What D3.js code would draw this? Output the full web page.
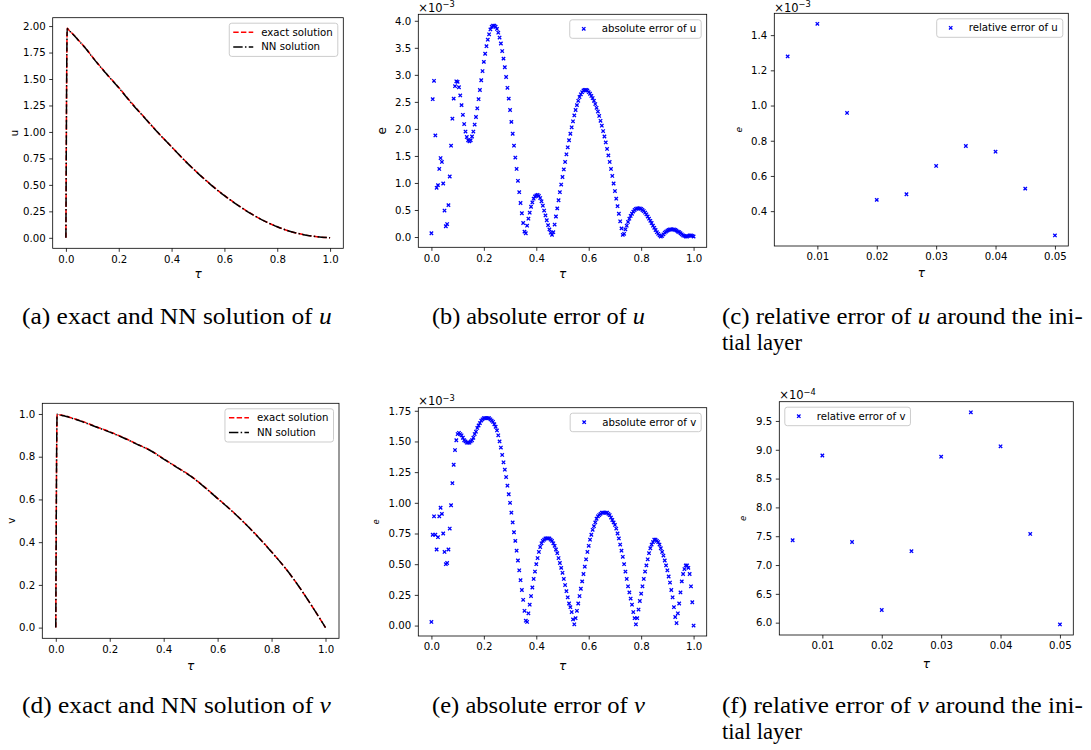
<!DOCTYPE html>
<html>
<head>
<meta charset="utf-8">
<script src="https://cdnjs.cloudflare.com/ajax/libs/d3/7.8.5/d3.min.js"></script>
<style>
  html, body { margin: 0; padding: 0; background: #fff; }
  svg { display: block; }
  .cap { font-family: "Liberation Serif", "DejaVu Serif", serif; }
  .plotfont { font-family: "DejaVu Sans", sans-serif; }
</style>
</head>
<body>
<svg id="fig" width="1091" height="750"></svg>
<script>
// ---------------- data ----------------
// sampling step of the tau grid used for the absolute errors (0 .. 1)
const errTauStep = 0.005;

// absolute error of u on the tau grid, in units of 1e-3
const uAbsErr = [
  0.07, 2.55, 2.89, 1.88, 0.91, 0.96, 1.26, 1.46, 1.39, 0.99, 0.49, 0.20, 0.24, 0.59, 1.12, 1.69, 2.19, 2.56, 2.79, 2.88, 2.87,
  2.77, 2.62, 2.44, 2.26, 2.09, 1.95, 1.85, 1.79, 1.77, 1.79, 1.86,
  1.95, 2.08, 2.22, 2.38, 2.55, 2.72, 2.90, 3.07, 3.24, 3.39, 3.53, 3.65, 3.75, 3.84, 3.89, 3.91, 3.91, 3.89, 3.85, 3.78,
  3.69, 3.58, 3.44, 3.30, 3.14, 2.96, 2.76, 2.56, 2.35, 2.13, 1.91, 1.69, 1.47, 1.26, 1.04, 0.83, 0.63, 0.44, 0.26, 0.10, 0.07,
  0.21, 0.34, 0.45, 0.56, 0.64, 0.71, 0.75, 0.77, 0.78, 0.76, 0.72, 0.66, 0.58, 0.49, 0.40, 0.31, 0.22, 0.14, 0.08, 0.04,
  0.09, 0.23, 0.38, 0.53, 0.68, 0.83, 0.97, 1.11, 1.25, 1.39, 1.53, 1.66, 1.79, 1.91, 2.03, 2.14, 2.25, 2.35, 2.44, 2.52,
  2.59, 2.64, 2.68, 2.71, 2.72,
  2.72, 2.71, 2.68, 2.65, 2.61, 2.57, 2.52, 2.46, 2.39, 2.32, 2.24, 2.15, 2.06, 1.96, 1.86, 1.75, 1.63, 1.51, 1.39, 1.26,
  1.13, 0.99, 0.85, 0.71, 0.57, 0.43, 0.29, 0.16, 0.04,
  0.06, 0.14, 0.21, 0.28, 0.34, 0.39, 0.43, 0.47, 0.50, 0.52, 0.53, 0.53, 0.53, 0.52, 0.50, 0.48, 0.45, 0.42, 0.38, 0.34,
  0.30, 0.26, 0.21, 0.17, 0.13, 0.09, 0.06, 0.03, 0.01, 0.02, 0.05, 0.08, 0.10, 0.12, 0.13, 0.14, 0.14, 0.14, 0.14, 0.13,
  0.12, 0.10, 0.09, 0.07, 0.05, 0.03, 0.02, 0.01, 0.01, 0.02, 0.03, 0.03, 0.02, 0.01
];

// absolute error of v on the tau grid, in units of 1e-3
const vAbsErr = [
  0.03, 0.74, 0.89, 0.74, 0.62, 0.72, 0.89, 0.96, 0.91, 0.75, 0.60, 0.50, 0.51, 0.62, 0.79, 0.98, 1.16, 1.31, 1.43, 1.51, 1.56,
  1.57, 1.56, 1.55, 1.53, 1.51, 1.50, 1.49, 1.49, 1.49, 1.50, 1.51, 1.53, 1.56, 1.58, 1.61, 1.63, 1.65, 1.67, 1.68, 1.69,
  1.69, 1.69, 1.69, 1.69, 1.68, 1.67, 1.66, 1.64, 1.62, 1.59, 1.55, 1.50, 1.45, 1.39, 1.33, 1.27, 1.21, 1.14, 1.07, 1.00,
  0.92, 0.84, 0.76, 0.69, 0.61, 0.53, 0.45, 0.37, 0.29, 0.21, 0.12, 0.04, 0.03, 0.10, 0.17, 0.24, 0.31, 0.38, 0.44, 0.50,
  0.55, 0.60, 0.64, 0.67, 0.69, 0.70, 0.71, 0.71, 0.71, 0.71, 0.70, 0.69, 0.67, 0.65, 0.62, 0.59, 0.55, 0.51, 0.47, 0.43,
  0.38, 0.33, 0.28, 0.23, 0.18, 0.15, 0.11, 0.05, 0.01, 0.06, 0.12, 0.18, 0.24, 0.30, 0.36, 0.42, 0.48, 0.54, 0.60, 0.65,
  0.70, 0.74, 0.78, 0.81, 0.84, 0.87, 0.89, 0.90, 0.91, 0.92, 0.92, 0.92, 0.92, 0.92, 0.91, 0.90, 0.88, 0.86, 0.84, 0.82,
  0.79, 0.75, 0.71, 0.66, 0.61, 0.56, 0.50, 0.44, 0.38, 0.32, 0.27, 0.22, 0.17, 0.11, 0.06, 0.01, 0.06, 0.13, 0.20, 0.26,
  0.32, 0.38, 0.44, 0.49, 0.54, 0.59, 0.63, 0.66, 0.68, 0.70, 0.70, 0.69, 0.68, 0.66, 0.63, 0.60, 0.57, 0.53, 0.49, 0.45,
  0.40, 0.35, 0.29, 0.23, 0.15, 0.07, 0.02, 0.10, 0.18, 0.27, 0.36, 0.42, 0.46, 0.49, 0.49, 0.47, 0.42, 0.32, 0.19, 0.00
];

// points inside the initial layer
const relTau = [0.005, 0.010, 0.015, 0.020, 0.025, 0.030, 0.035, 0.040, 0.045, 0.050];
// relative error of u, units of 1e-3
const uRelErr = [1.279, 1.464, 0.958, 0.464, 0.496, 0.657, 0.770, 0.738, 0.528, 0.262];
// relative error of v, units of 1e-4
const vRelErr = [7.43, 8.90, 7.40, 6.22, 7.24, 8.88, 9.65, 9.06, 7.54, 5.97];

// solution curves
const solTau = [0, 0.005, 0.01, 0.02, 0.03, 0.05, 0.075, 0.1, 0.15, 0.2, 0.25, 0.3, 0.35, 0.4, 0.45,
                0.5, 0.55, 0.6, 0.65, 0.7, 0.75, 0.8, 0.85, 0.9, 0.95, 1.0];
const uExact = [0, 1.980, 1.965, 1.940, 1.915, 1.860, 1.790, 1.710, 1.560, 1.420, 1.270, 1.130, 0.990, 0.860, 0.730,
                0.610, 0.500, 0.400, 0.310, 0.230, 0.160, 0.105, 0.060, 0.030, 0.010, 0.000];
const uNN    = [0, 1.978, 1.962, 1.939, 1.914, 1.859, 1.788, 1.707, 1.558, 1.417, 1.266, 1.128, 0.989, 0.859, 0.729,
                0.609, 0.498, 0.398, 0.309, 0.229, 0.160, 0.105, 0.060, 0.030, 0.010, 0.000];
const vExact = [0, 0.999, 0.997, 0.995, 0.993, 0.985, 0.975, 0.965, 0.940, 0.917, 0.890, 0.860, 0.830, 0.790, 0.750,
                0.710, 0.660, 0.605, 0.550, 0.490, 0.425, 0.355, 0.280, 0.195, 0.100, 0.000];
const vNN    = [0, 0.999, 0.996, 0.994, 0.992, 0.984, 0.974, 0.963, 0.939, 0.915, 0.889, 0.859, 0.829, 0.789, 0.749,
                0.709, 0.659, 0.604, 0.549, 0.489, 0.424, 0.354, 0.280, 0.195, 0.100, 0.000];

// tick labels
const tauTicks = [0, 0.2, 0.4, 0.6, 0.8, 1.0];
const layerTicks = [0.01, 0.02, 0.03, 0.04, 0.05];
const uTicks = [0, 0.25, 0.5, 0.75, 1.0, 1.25, 1.5, 1.75, 2.0];
const vTicks = [0, 0.2, 0.4, 0.6, 0.8, 1.0];
const uAbsTicks = [0, 0.5, 1.0, 1.5, 2.0, 2.5, 3.0, 3.5, 4.0];
const vAbsTicks = [0, 0.25, 0.5, 0.75, 1.0, 1.25, 1.5, 1.75];
const uRelTicks = [0.4, 0.6, 0.8, 1.0, 1.2, 1.4];
const vRelTicks = [6.0, 6.5, 7.0, 7.5, 8.0, 8.5, 9.0, 9.5];

const captions = [
  { lines: [["(a) exact and NN solution of ", "u"]] },
  { lines: [["(b) absolute error of ", "u"]] },
  { lines: [["(c) relative error of ", "u", " around the ini-"], ["tial layer"]] },
  { lines: [["(d) exact and NN solution of ", "v"]] },
  { lines: [["(e) absolute error of ", "v"]] },
  { lines: [["(f) relative error of ", "v", " around the ini-"], ["tial layer"]] }
];

// ---------------- drawing ----------------
const svg = d3.select("#fig");
const FS = 10.2;
const errTau = d3.range(uAbsErr.length).map(i => +(i * errTauStep).toFixed(3));
const zip = (xs, ys) => xs.map((t, i) => [t, ys[i]]);
const xMark = "M-1.7,-1.7L1.7,1.7M-1.7,1.7L1.7,-1.7";

function drawLegend(g, p) {
  const lg = g.append("g");
  const frame = lg.append("rect");
  const rowH = 14.7;
  const texts = [];
  p.legend.items.forEach((it, k) => {
    const cy = k * rowH;
    if (it.kind === "line") {
      lg.append("line").attr("x1", 4).attr("x2", 24).attr("y1", cy).attr("y2", cy)
        .attr("stroke", it.color).attr("stroke-width", 1.5).attr("stroke-dasharray", it.dash);
    } else {
      lg.append("path").attr("d", xMark).attr("transform", `translate(14,${cy})`)
        .attr("stroke", "blue").attr("stroke-width", 1.3).attr("fill", "none");
    }
    texts.push(lg.append("text").attr("class", "plotfont").attr("x", 32).attr("y", cy).attr("dy", "0.35em")
      .attr("font-size", FS).attr("fill", "#000").text(it.label));
  });
  const tw = d3.max(texts, t => t.node().getComputedTextLength());
  const w = 32 + tw + 5;
  const h = 9 + (p.legend.items.length - 1) * rowH + 9.5;
  frame.attr("x", 0).attr("y", -9).attr("width", w).attr("height", h).attr("rx", 2.5)
    .attr("fill", "#fff").attr("fill-opacity", 0.8).attr("stroke", "#cccccc").attr("stroke-width", 1);
  const left = p.legend.loc === "upper left" ? p.box.l + 5.5 : p.box.r - 5.5 - w;
  lg.attr("transform", `translate(${left},${p.box.t + 5.5 + 9})`);
}

function drawPanel(p) {
  const g = svg.append("g");
  const x = d3.scaleLinear().domain(p.xDomain).range([p.box.l, p.box.r]);
  const y = d3.scaleLinear().domain(p.yDomain).range([p.box.b, p.box.t]);

  const clipId = "clip-" + p.id;
  svg.append("clipPath").attr("id", clipId).append("rect")
    .attr("x", p.box.l).attr("y", p.box.t).attr("width", p.box.r - p.box.l).attr("height", p.box.b - p.box.t);
  const plot = g.append("g").attr("clip-path", `url(#${clipId})`);

  (p.lines || []).forEach(s => {
    plot.append("path").datum(zip(s.xs, s.ys))
      .attr("d", d3.line().x(d => x(d[0])).y(d => y(d[1])).curve(d3.curveMonotoneX))
      .attr("fill", "none").attr("stroke", s.color).attr("stroke-width", 1.5)
      .attr("stroke-dasharray", s.dash);
  });
  (p.scatter || []).forEach(s => {
    plot.append("g").selectAll("path").data(zip(s.xs, s.ys)).join("path")
      .attr("transform", d => `translate(${x(d[0])},${y(d[1])})`)
      .attr("d", xMark).attr("stroke", "blue").attr("stroke-width", 1.3).attr("fill", "none");
  });

  // axes
  const ax = g.append("g").attr("transform", `translate(0,${p.box.b})`)
    .call(d3.axisBottom(x).tickValues(p.xTicks).tickFormat(d3.format(p.xFmt)).tickSize(3.5).tickPadding(3.5));
  const ay = g.append("g").attr("transform", `translate(${p.box.l},0)`)
    .call(d3.axisLeft(y).tickValues(p.yTicks).tickFormat(d3.format(p.yFmt)).tickSize(3.5).tickPadding(3.5));
  [ax, ay].forEach(a => {
    a.attr("font-family", null);
    a.select(".domain").remove();
    a.selectAll(".tick line").attr("stroke", "#000").attr("stroke-width", 0.8);
    a.selectAll(".tick text").attr("class", "plotfont").attr("font-size", FS).attr("fill", "#000");
  });

  // frame
  g.append("rect").attr("x", p.box.l).attr("y", p.box.t)
    .attr("width", p.box.r - p.box.l).attr("height", p.box.b - p.box.t)
    .attr("fill", "none").attr("stroke", "#000").attr("stroke-width", 0.8);

  // axis labels
  g.append("text").attr("class", "plotfont").attr("x", (p.box.l + p.box.r) / 2).attr("y", p.xLabelY)
    .attr("text-anchor", "middle").attr("font-style", "italic")
    .attr("font-size", 12).attr("fill", "#000").text("τ");
  g.append("text").attr("class", "plotfont")
    .attr("transform", `translate(${p.yLabelX},${(p.box.t + p.box.b) / 2}) rotate(-90)`)
    .attr("text-anchor", "middle").attr("dominant-baseline", "central")
    .attr("font-style", p.yLabelItalic ? "italic" : "normal")
    .attr("font-size", p.yLabelSize).attr("fill", "#000").text(p.yLabel);

  // scale factor text
  if (p.offset) {
    const t = g.append("text").attr("class", "plotfont").attr("x", p.box.l)
      .attr("y", Math.max(p.box.t - 2.5, 11.5))
      .attr("font-size", 11.5).attr("fill", "#000");
    t.append("tspan").text("×10");
    t.append("tspan").attr("dy", -4.6).attr("font-size", 8.3).text("−" + p.offset);
  }

  if (p.legend) drawLegend(g, p);
}

const dashRed = "5.4,2.3";
const dashDot = "9.4,2.3,1.5,2.3";

const panels = [
  { id: "a", box: { l: 52.7, r: 343.3, t: 17.7, b: 248.3 },
    xDomain: [-0.05, 1.05], yDomain: [-0.099, 2.079], xTicks: tauTicks, xFmt: ".1f", yTicks: uTicks, yFmt: ".2f",
    lines: [ { xs: solTau, ys: uExact, color: "#ff0000", dash: dashRed },
             { xs: solTau, ys: uNN, color: "#000", dash: dashDot } ],
    yLabel: "u", yLabelX: 14, yLabelSize: 10.2, xLabelY: 278,
    legend: { loc: "upper right", items: [
      { kind: "line", color: "#ff0000", dash: dashRed, label: "exact solution" },
      { kind: "line", color: "#000", dash: dashDot, label: "NN solution" } ] } },
  { id: "b", box: { l: 418.3, r: 706.7, t: 14.3, b: 247.3 },
    xDomain: [-0.05, 1.05], yDomain: [-0.19, 4.12], xTicks: tauTicks, xFmt: ".1f", yTicks: uAbsTicks, yFmt: ".1f",
    scatter: [ { xs: errTau, ys: uAbsErr } ], offset: "3",
    yLabel: "e", yLabelX: 382, yLabelSize: 12, xLabelY: 278,
    legend: { loc: "upper right", items: [ { kind: "marker", label: "absolute error of u" } ] } },
  { id: "c", box: { l: 774.3, r: 1068.3, t: 13.3, b: 246 },
    xDomain: [0.00275, 0.05225], yDomain: [0.202, 1.524], xTicks: layerTicks, xFmt: ".2f", yTicks: uRelTicks, yFmt: ".1f",
    scatter: [ { xs: relTau, ys: uRelErr } ], offset: "3",
    yLabel: "e", yLabelX: 738.5, yLabelSize: 9, yLabelItalic: true, xLabelY: 276.5,
    legend: { loc: "upper right", items: [ { kind: "marker", label: "relative error of u" } ] } },
  { id: "d", box: { l: 42.3, r: 339, t: 403.3, b: 638.3 },
    xDomain: [-0.05, 1.05], yDomain: [-0.05, 1.05], xTicks: tauTicks, xFmt: ".1f", yTicks: vTicks, yFmt: ".1f",
    lines: [ { xs: solTau, ys: vExact, color: "#ff0000", dash: dashRed },
             { xs: solTau, ys: vNN, color: "#000", dash: dashDot } ],
    yLabel: "v", yLabelX: 11, yLabelSize: 10.2, xLabelY: 669.5,
    legend: { loc: "upper right", items: [
      { kind: "line", color: "#ff0000", dash: dashRed, label: "exact solution" },
      { kind: "line", color: "#000", dash: dashDot, label: "NN solution" } ] } },
  { id: "e", box: { l: 418.3, r: 706.7, t: 407.7, b: 636 },
    xDomain: [-0.05, 1.05], yDomain: [-0.085, 1.775], xTicks: tauTicks, xFmt: ".1f", yTicks: vAbsTicks, yFmt: ".2f",
    scatter: [ { xs: errTau, ys: vAbsErr } ], offset: "3",
    yLabel: "e", yLabelX: 376, yLabelSize: 8.5, yLabelItalic: true, xLabelY: 669.5,
    legend: { loc: "upper right", items: [ { kind: "marker", label: "absolute error of v" } ] } },
  { id: "f", box: { l: 779.3, r: 1073.3, t: 401.7, b: 635 },
    xDomain: [0.00275, 0.05225], yDomain: [5.786, 9.834], xTicks: layerTicks, xFmt: ".2f", yTicks: vRelTicks, yFmt: ".1f",
    scatter: [ { xs: relTau, ys: vRelErr } ], offset: "4",
    yLabel: "e", yLabelX: 743, yLabelSize: 8.5, yLabelItalic: true, xLabelY: 668,
    legend: { loc: "upper left", items: [ { kind: "marker", label: "relative error of v" } ] } }
];

panels.forEach(drawPanel);

// sub-figure captions; each line is stretched horizontally to its column width
const capPos = [
  { x: 22, y: 324, w: 310 }, { x: 432, y: 324, w: 213 }, { x: 722, y: 324, w: 361 },
  { x: 22, y: 713, w: 309 }, { x: 432, y: 713, w: 213 }, { x: 722, y: 713, w: 361 }
];
const CAP_FS = 22.5;
const CAP_LINE = 25.5;
const SECOND_LINE_W = 80;
captions.forEach((c, k) => {
  const pos = capPos[k];
  c.lines.forEach((parts, li) => {
    const t = svg.append("text").attr("class", "cap").attr("x", 0).attr("y", 0)
      .attr("font-size", CAP_FS).attr("fill", "#000");
    parts.forEach((s, j) => {
      t.append("tspan").attr("font-style", j === 1 ? "italic" : "normal").text(s);
    });
    const natural = t.node().getComputedTextLength();
    const target = li === 0 ? pos.w : SECOND_LINE_W;
    const sx = target / natural;
    t.attr("transform", `translate(${pos.x},${pos.y + li * CAP_LINE}) scale(${sx},1)`);
  });
});
</script>
</body>
</html>
